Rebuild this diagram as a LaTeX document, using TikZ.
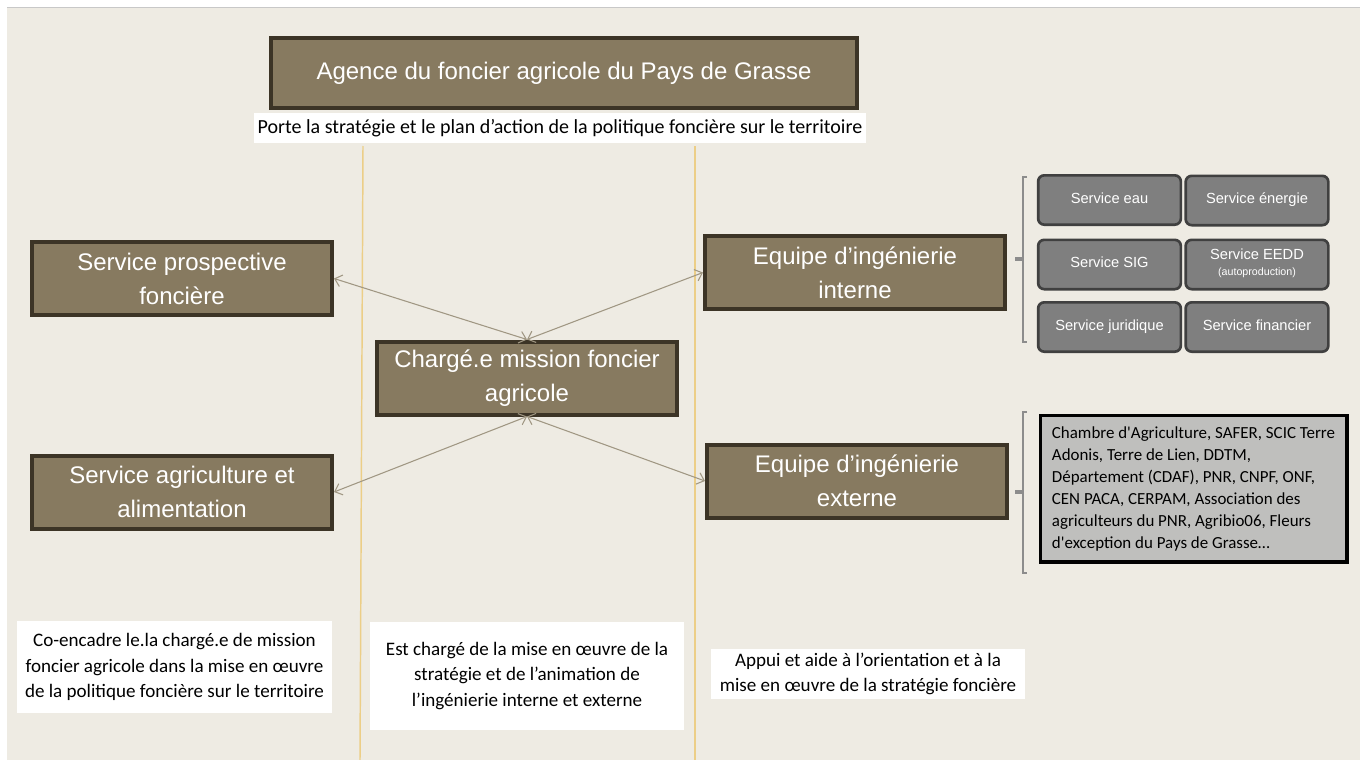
\documentclass[tikz,border=0pt]{standalone}
\usepackage{fontspec}
\setmainfont{Carlito}
\newfontfamily\boxfont{Liberation Sans}
\newfontfamily\extfont{Carlito}
\usepackage{tikz}
\usetikzlibrary{arrows.meta}

\definecolor{taupe}{RGB}{135,122,96}
\definecolor{taupeline}{RGB}{60,52,38}
\definecolor{paper}{RGB}{238,235,227}
\definecolor{gold}{RGB}{236,206,135}
\definecolor{linkgray}{RGB}{160,151,131}
\definecolor{servfill}{RGB}{127,127,127}
\definecolor{servline}{RGB}{64,64,64}
\definecolor{bracketgray}{RGB}{140,140,140}
\definecolor{extfill}{RGB}{191,191,189}

\begin{document}
\begin{tikzpicture}[x=0.75pt,y=0.75pt,yscale=-1,xscale=1,
    bigbox/.style={draw=taupeline,fill=taupe,line width=3pt,text=white,align=center,
      font=\boxfont\fontsize{18}{25.5}\selectfont,minimum width=225pt,minimum height=54.75pt,inner sep=0pt},
    servbox/.style={draw=servline,fill=servfill,line width=2pt,rounded corners=4.5pt,text=white,align=center,
      font=\boxfont\fontsize{11}{13}\selectfont,minimum width=107pt,minimum height=37pt,inner sep=0pt,
      execute at begin node=\strut},
    notebox/.style={fill=white,align=center,font=\fontsize{14.3}{19}\selectfont,inner sep=0pt},
    link/.style={draw=linkgray,line width=0.8pt,{Straight Barb[length=5pt,width=9pt]}-{Straight Barb[length=5pt,width=9pt]}},
    bracket/.style={draw=bracketgray,line width=2.2pt}]
        \useasboundingbox (0,0) rectangle (1360,760);

        %Shape: Background
        \fill [white] (0,0) rectangle (1360,760);
        \fill [paper] (7,7) rectangle (1360,760);
        \draw [color={rgb, 255:red, 200; green, 200; blue, 200 },line width=0.75pt] (7,7) -- (1360,7);

        %Straight Lines: columns
        \draw [gold,line width=1.1pt] (363,146) -- (360,760);
        \draw [gold,line width=1.1pt] (695,146) -- (695,760);

        % Top
        \node [bigbox,minimum width=439.5pt,minimum height=52.5pt] (agence) at (564,73) {Agence du foncier agricole du Pays de Grasse};
        \node [notebox,font=\fontsize{15}{18}\selectfont,minimum width=459pt,minimum height=22.5pt] (porte) at (560,128) {Porte la stratégie et le plan d’action de la politique foncière sur le territoire};

        % Left column
        \node [bigbox] (prospective) at (182,278.5) {Service prospective\\foncière};
        \node [bigbox] (agriculture) at (182,492) {Service agriculture et\\alimentation};

        % Centre
        \node [bigbox] (mission) at (527,378) {Chargé.e mission foncier\\agricole};

        % Right column
        \node [bigbox] (interne) at (855,272.5) {Equipe d’ingénierie\\interne};
        \node [bigbox] (externe) at (857,481) {Equipe d’ingénierie\\externe};

        % Services internes
        \node [servbox] (eau) at (1109.5,200) {Service eau};
        \node [servbox] (energie) at (1257,200.5) {Service énergie};
        \node [servbox] (sig) at (1109.5,264.5) {Service SIG};
        \node [servbox] (eedd) at (1257,264.5) {Service EEDD\\[-1pt]{\fontsize{8}{10}\selectfont (autoproduction)}};
        \node [servbox] (juridique) at (1109.5,327) {Service juridique};
        \node [servbox] (financier) at (1257,327) {Service financier};

        % Partenaires externes
        \node [draw=black,fill=extfill,line width=2.5pt,align=left,inner xsep=7pt,inner ysep=0pt,
          minimum width=230pt,minimum height=110pt,font=\extfont\fontsize{12.7}{16.5}\selectfont] (partenaires) at (1193.5,488.5)
          {Chambre d'Agriculture, SAFER, SCIC Terre\\Adonis, Terre de Lien, DDTM,\\Département (CDAF), PNR, CNPF, ONF,\\CEN PACA, CERPAM, Association des\\agriculteurs du PNR, Agribio06, Fleurs\\d'exception du Pays de Grasse…};

        %Brackets
        \draw [bracket] (1027,177) -- (1023,177) -- (1023,342) -- (1027,342);
        \draw [bracket,line width=3pt] (1023,259) -- (1015,259);
        \draw [bracket] (1027,412) -- (1023,412) -- (1023,573) -- (1027,573);
        \draw [bracket,line width=3pt] (1023,492) -- (1015,492);

        % Bottom notes
        \node [notebox,minimum width=236.25pt,minimum height=69pt] (coencadre) at (174.5,667)
          {Co-encadre le.la chargé.e de mission\\foncier agricole dans la mise en œuvre\\de la politique foncière sur le territoire};
        \node [notebox,minimum width=235.5pt,minimum height=81pt] (animation) at (527,676)
          {Est chargé de la mise en œuvre de la\\stratégie et de l’animation de\\l’ingénierie interne et externe};
        \node [notebox,minimum width=235.5pt,minimum height=37.5pt] (appui) at (868,674)
          {Appui et aide à l’orientation et à la\\mise en œuvre de la stratégie foncière};

        %Straight Lines: links
        \draw [link] (prospective.east) -- (mission.north);
        \draw [link] (mission.north) -- (interne.west);
        \draw [link] (agriculture.east) -- (mission.south);
        \draw [link] (mission.south) -- (externe.west);

    \end{tikzpicture}
\end{document}
